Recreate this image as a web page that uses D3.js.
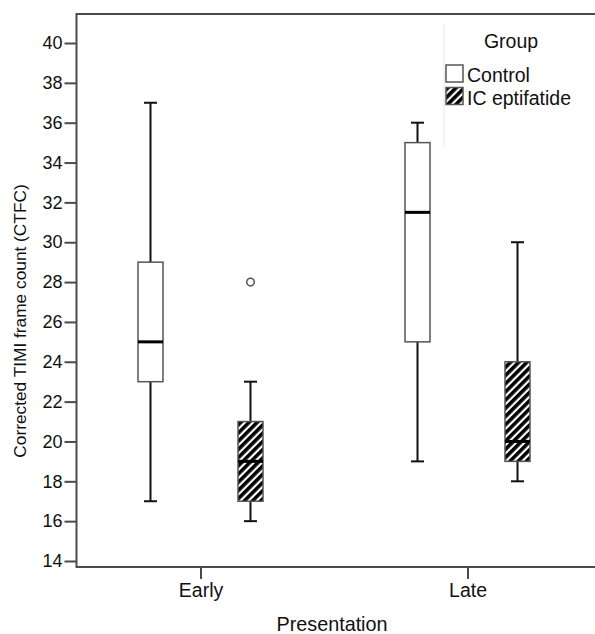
<!DOCTYPE html>
<html>
<head>
<meta charset="utf-8">
<script src="https://cdn.jsdelivr.net/npm/d3@7/dist/d3.min.js"></script>
<style>
  body { margin: 0; background: #fff; }
  text { font-family: "Liberation Sans", Arial, sans-serif; fill: #111; }
</style>
</head>
<body>
<svg id="chart" width="595" height="634"></svg>
<script>
// data
const categories = ["Early", "Late"];
const groups = ["Control", "IC eptifatide"];
const yTicks = [14, 16, 18, 20, 22, 24, 26, 28, 30, 32, 34, 36, 38, 40];

// [low whisker, Q1, median, Q3, high whisker] per category
const controlStats = [[17, 23, 25, 29, 37], [19, 25, 31.5, 35, 36]];
const icStats = [[16, 17, 19, 21, 23], [18, 19, 20, 24, 30]];
const outliers = [{ cat: "Early", group: "IC eptifatide", value: 28 }];

const svg = d3.select("#chart");

const frame = { left: 76.5, top: 14, bottom: 567, right: 600 };

const y = d3.scaleLinear()
  .domain([14, 40])
  .range([561, 43]);

const x = d3.scalePoint()
  .domain(categories)
  .range([200.5, 467.5]);

const offset = d3.scalePoint()
  .domain(groups)
  .range([-50, 50]);

const boxW = 25;
const capW = 13;

// hatch pattern
const defs = svg.append("defs");
defs.append("pattern")
  .attr("id", "hatch")
  .attr("patternUnits", "userSpaceOnUse")
  .attr("width", 5.8)
  .attr("height", 5.8)
  .attr("patternTransform", "rotate(45)")
  .call(p => {
    p.append("rect").attr("width", 5.8).attr("height", 5.8).attr("fill", "#fff");
    p.append("rect").attr("width", 3.6).attr("height", 5.8).attr("fill", "#000");
  });

// frame
svg.append("path")
  .attr("d", `M${frame.right},${frame.top}H${frame.left}V${frame.bottom}H${frame.right}`)
  .attr("fill", "none")
  .attr("stroke", "#4a4a4a")
  .attr("stroke-width", 2);

// y axis
const yAxis = svg.append("g")
  .attr("transform", `translate(${frame.left},0)`)
  .call(d3.axisLeft(y).tickValues(yTicks).tickSize(12).tickPadding(2));
yAxis.select(".domain").remove();
yAxis.selectAll(".tick line").attr("stroke", "#4a4a4a").attr("stroke-width", 2);
yAxis.selectAll(".tick text").style("font-size", "18px").attr("fill", "#111");

// x axis
const xAxis = svg.append("g")
  .attr("transform", `translate(0,${frame.bottom})`)
  .call(d3.axisBottom(x).tickSize(12).tickPadding(4));
xAxis.select(".domain").remove();
xAxis.selectAll(".tick line").attr("stroke", "#4a4a4a").attr("stroke-width", 2);
xAxis.selectAll(".tick text").style("font-size", "19.5px").attr("fill", "#111");

// axis titles
svg.append("text")
  .attr("transform", "translate(26,321) rotate(-90)")
  .attr("text-anchor", "middle")
  .style("font-size", "17.3px")
  .text("Corrected TIMI frame count (CTFC)");

svg.append("text")
  .attr("x", 332)
  .attr("y", 631)
  .attr("text-anchor", "middle")
  .style("font-size", "19.8px")
  .text("Presentation");

// boxes
const boxes = [];
categories.forEach((c, i) => {
  boxes.push({ cat: c, group: groups[0], s: controlStats[i] });
  boxes.push({ cat: c, group: groups[1], s: icStats[i] });
});

const g = svg.selectAll(".box")
  .data(boxes)
  .enter()
  .append("g")
  .attr("class", "box")
  .attr("transform", d => `translate(${x(d.cat) + offset(d.group)},0)`);

// whiskers
g.append("line")
  .attr("y1", d => y(d.s[0])).attr("y2", d => y(d.s[1]))
  .attr("stroke", "#111").attr("stroke-width", 2);
g.append("line")
  .attr("y1", d => y(d.s[3])).attr("y2", d => y(d.s[4]))
  .attr("stroke", "#111").attr("stroke-width", 2);
g.append("line")
  .attr("x1", -capW / 2).attr("x2", capW / 2)
  .attr("y1", d => y(d.s[0])).attr("y2", d => y(d.s[0]))
  .attr("stroke", "#111").attr("stroke-width", 2);
g.append("line")
  .attr("x1", -capW / 2).attr("x2", capW / 2)
  .attr("y1", d => y(d.s[4])).attr("y2", d => y(d.s[4]))
  .attr("stroke", "#111").attr("stroke-width", 2);

g.append("rect")
  .attr("x", -boxW / 2)
  .attr("width", boxW)
  .attr("y", d => y(d.s[3]))
  .attr("height", d => y(d.s[1]) - y(d.s[3]))
  .attr("fill", d => d.group === groups[0] ? "#fff" : "url(#hatch)")
  .attr("stroke", "#555")
  .attr("stroke-width", 1.5);

g.append("line")
  .attr("x1", -boxW / 2).attr("x2", boxW / 2)
  .attr("y1", d => y(d.s[2])).attr("y2", d => y(d.s[2]))
  .attr("stroke", "#000").attr("stroke-width", 3);

// outliers
svg.selectAll(".outlier")
  .data(outliers)
  .enter()
  .append("circle")
  .attr("cx", d => x(d.cat) + offset(d.group))
  .attr("cy", d => y(d.value))
  .attr("r", 3.8)
  .attr("fill", "#fff")
  .attr("stroke", "#555")
  .attr("stroke-width", 1.5);

// legend
const legend = svg.append("g");
legend.append("line")
  .attr("x1", 444).attr("x2", 444)
  .attr("y1", 23).attr("y2", 147)
  .attr("stroke", "#e4e4e4").attr("stroke-width", 1);
legend.append("text")
  .attr("x", 511).attr("y", 48)
  .attr("text-anchor", "middle")
  .style("font-size", "19.5px")
  .text("Group");
groups.forEach((grp, i) => {
  const ly = 65 + i * 22.5;
  legend.append("rect")
    .attr("x", 446).attr("y", ly)
    .attr("width", 17).attr("height", 17)
    .attr("fill", i === 0 ? "#fff" : "url(#hatch)")
    .attr("stroke", "#555")
    .attr("stroke-width", 1.5);
  legend.append("text")
    .attr("x", 467).attr("y", ly + 17)
    .style("font-size", "19.5px")
    .text(grp);
});
</script>
</body>
</html>
